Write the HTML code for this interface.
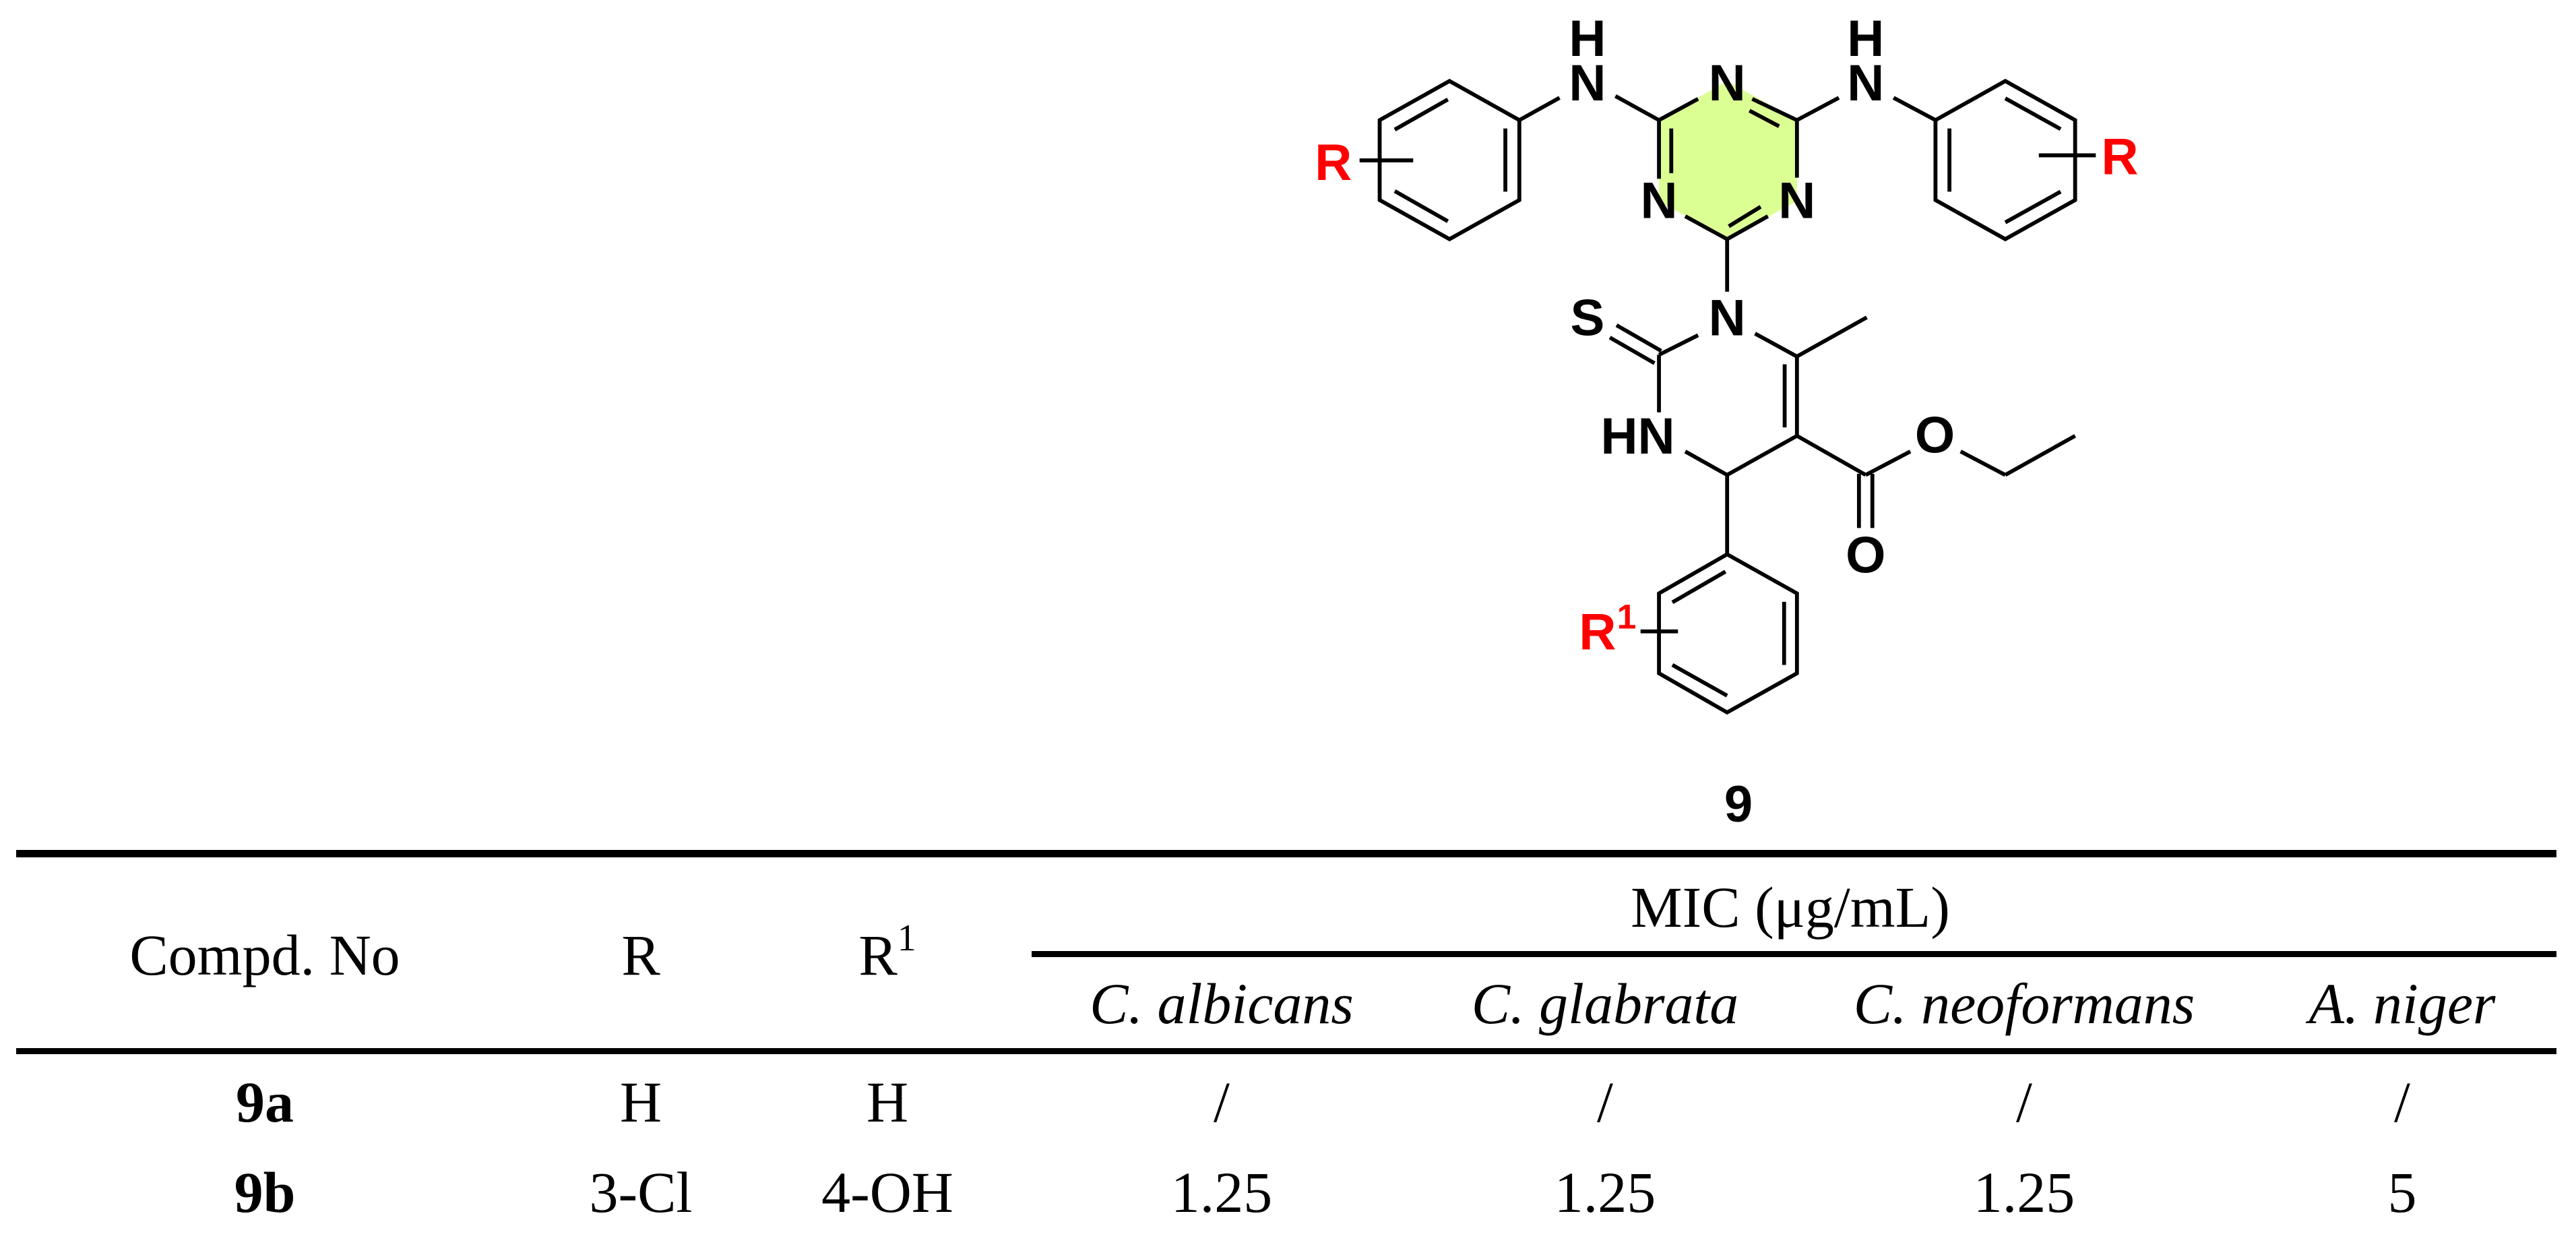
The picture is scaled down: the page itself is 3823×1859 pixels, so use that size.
<!DOCTYPE html>
<html><head><meta charset="utf-8"><style>
html,body{margin:0;padding:0;background:#fff;}
svg{display:block;}
</style></head><body>
<svg width="3823" height="1859" viewBox="0 0 3823 1859" xmlns="http://www.w3.org/2000/svg">
<rect width="3823" height="1859" fill="#fff"/>
<g transform="translate(1900,0) scale(0.829)">
  <polygon points="800,145 925,215 925,360 800,428 678,360 678,215" fill="#dcff94"/>
  <g stroke="#000" stroke-width="7" fill="none" stroke-linecap="butt" stroke-linejoin="miter">
    <!-- triazine -->
    <line x1="678" y1="215" x2="748" y2="177"/>
    <line x1="845" y1="177" x2="925" y2="215"/>
    <line x1="840" y1="198" x2="893" y2="226"/>
    <line x1="678" y1="215" x2="678" y2="320"/>
    <line x1="700" y1="230" x2="700" y2="310"/>
    <line x1="725" y1="387" x2="800" y2="428"/>
    <line x1="800" y1="428" x2="873" y2="387"/>
    <line x1="803" y1="405" x2="860" y2="370"/>
    <line x1="925" y1="318" x2="925" y2="215"/>
    <!-- left NH -->
    <line x1="678" y1="215" x2="600" y2="172"/>
    <line x1="500" y1="175" x2="428" y2="215"/>
    <!-- left phenyl -->
    <polygon points="428,215 428,358 303,428 178,358 178,215 303,145"/>
    <line x1="403" y1="230" x2="403" y2="343"/>
    <line x1="205" y1="342" x2="300" y2="396"/>
    <line x1="205" y1="232" x2="300" y2="178"/>
    <line x1="142" y1="287" x2="238" y2="287"/>
    <!-- right NH -->
    <line x1="925" y1="215" x2="1000" y2="175"/>
    <line x1="1098" y1="175" x2="1173" y2="215"/>
    <!-- right phenyl -->
    <polygon points="1173,215 1298,145 1423,215 1423,358 1298,428 1173,358"/>
    <line x1="1198" y1="230" x2="1198" y2="343"/>
    <line x1="1298" y1="176" x2="1397" y2="231"/>
    <line x1="1298" y1="398" x2="1397" y2="343"/>
    <line x1="1358" y1="278" x2="1460" y2="278"/>
    <!-- triazine to N -->
    <line x1="800" y1="428" x2="800" y2="522"/>
    <!-- pyrimidine -->
    <line x1="748" y1="600" x2="678" y2="635"/>
    <line x1="602" y1="582" x2="682" y2="628"/>
    <line x1="590" y1="604" x2="670" y2="650"/>
    <line x1="678" y1="635" x2="678" y2="738"/>
    <line x1="725" y1="808" x2="800" y2="850"/>
    <line x1="800" y1="850" x2="925" y2="780"/>
    <line x1="925" y1="780" x2="925" y2="638"/>
    <line x1="903" y1="765" x2="903" y2="652"/>
    <line x1="925" y1="638" x2="850" y2="597"/>
    <line x1="925" y1="638" x2="1050" y2="568"/>
    <!-- ester -->
    <line x1="925" y1="780" x2="1048" y2="850"/>
    <line x1="1048" y1="850" x2="1128" y2="808"/>
    <line x1="1218" y1="808" x2="1298" y2="850"/>
    <line x1="1298" y1="850" x2="1423" y2="780"/>
    <line x1="1036" y1="848" x2="1036" y2="945"/>
    <line x1="1060" y1="848" x2="1060" y2="945"/>
    <!-- bottom phenyl -->
    <line x1="800" y1="850" x2="800" y2="992"/>
    <polygon points="800,992 925,1062 925,1205 800,1275 678,1205 678,1062"/>
    <line x1="902" y1="1077" x2="902" y2="1190"/>
    <line x1="702" y1="1078" x2="797" y2="1023"/>
    <line x1="702" y1="1190" x2="800" y2="1245"/>
    <line x1="645" y1="1130" x2="712" y2="1130"/>
  </g>
  <g font-family="Liberation Sans, sans-serif" font-weight="bold" font-size="92" text-anchor="middle" fill="#000">
    <text x="800" y="180">N</text>
    <text x="678" y="390">N</text>
    <text x="925" y="390">N</text>
    <text x="550" y="180">N</text>
    <text x="550" y="100">H</text>
    <text x="1048" y="180">N</text>
    <text x="1048" y="100">H</text>
    <text x="800" y="600">N</text>
    <text x="550" y="600">S</text>
    <text x="640" y="812">HN</text>
    <text x="1172" y="810">O</text>
    <text x="1048" y="1025">O</text>
  </g>
  <g font-family="Liberation Sans, sans-serif" font-weight="bold" font-size="92" fill="#ff0000" text-anchor="middle">
    <text x="95" y="322">R</text>
    <text x="1503" y="312">R</text>
    <text x="568" y="1162">R</text>
    <text x="620" y="1125" font-size="62">1</text>
  </g>
</g>
<text x="2580" y="1219" font-family="Liberation Sans, sans-serif" font-weight="bold" font-size="76" text-anchor="middle">9</text>
<rect x="24" y="1261" width="3770" height="11" fill="#000"/>
<rect x="1531" y="1411" width="2263" height="9" fill="#000"/>
<rect x="24" y="1555" width="3770" height="9" fill="#000"/>
<g font-family="Liberation Serif, serif" font-size="86" text-anchor="middle" fill="#000">
  <text x="2657" y="1375">MIC (μg/mL)</text>
  <text x="393" y="1446">Compd. No</text>
  <text x="951" y="1446">R</text>
  <text x="1317" y="1446">R<tspan font-size="56" dy="-36">1</tspan></text>
  <g font-style="italic">
    <text x="1813" y="1518">C. albicans</text>
    <text x="2382" y="1518">C. glabrata</text>
    <text x="3004" y="1518">C. neoformans</text>
    <text x="3565" y="1518">A. niger</text>
  </g>
  <text x="393" y="1664" font-weight="bold">9a</text>
  <text x="951" y="1664">H</text>
  <text x="1317" y="1664">H</text>
  <text x="1813" y="1664">/</text>
  <text x="2382" y="1664">/</text>
  <text x="3004" y="1664">/</text>
  <text x="3565" y="1664">/</text>
  <text x="393" y="1798" font-weight="bold">9b</text>
  <text x="951" y="1798">3-Cl</text>
  <text x="1317" y="1798">4-OH</text>
  <text x="1813" y="1798">1.25</text>
  <text x="2382" y="1798">1.25</text>
  <text x="3004" y="1798">1.25</text>
  <text x="3565" y="1798">5</text>
</g>
</svg>
</body></html>
